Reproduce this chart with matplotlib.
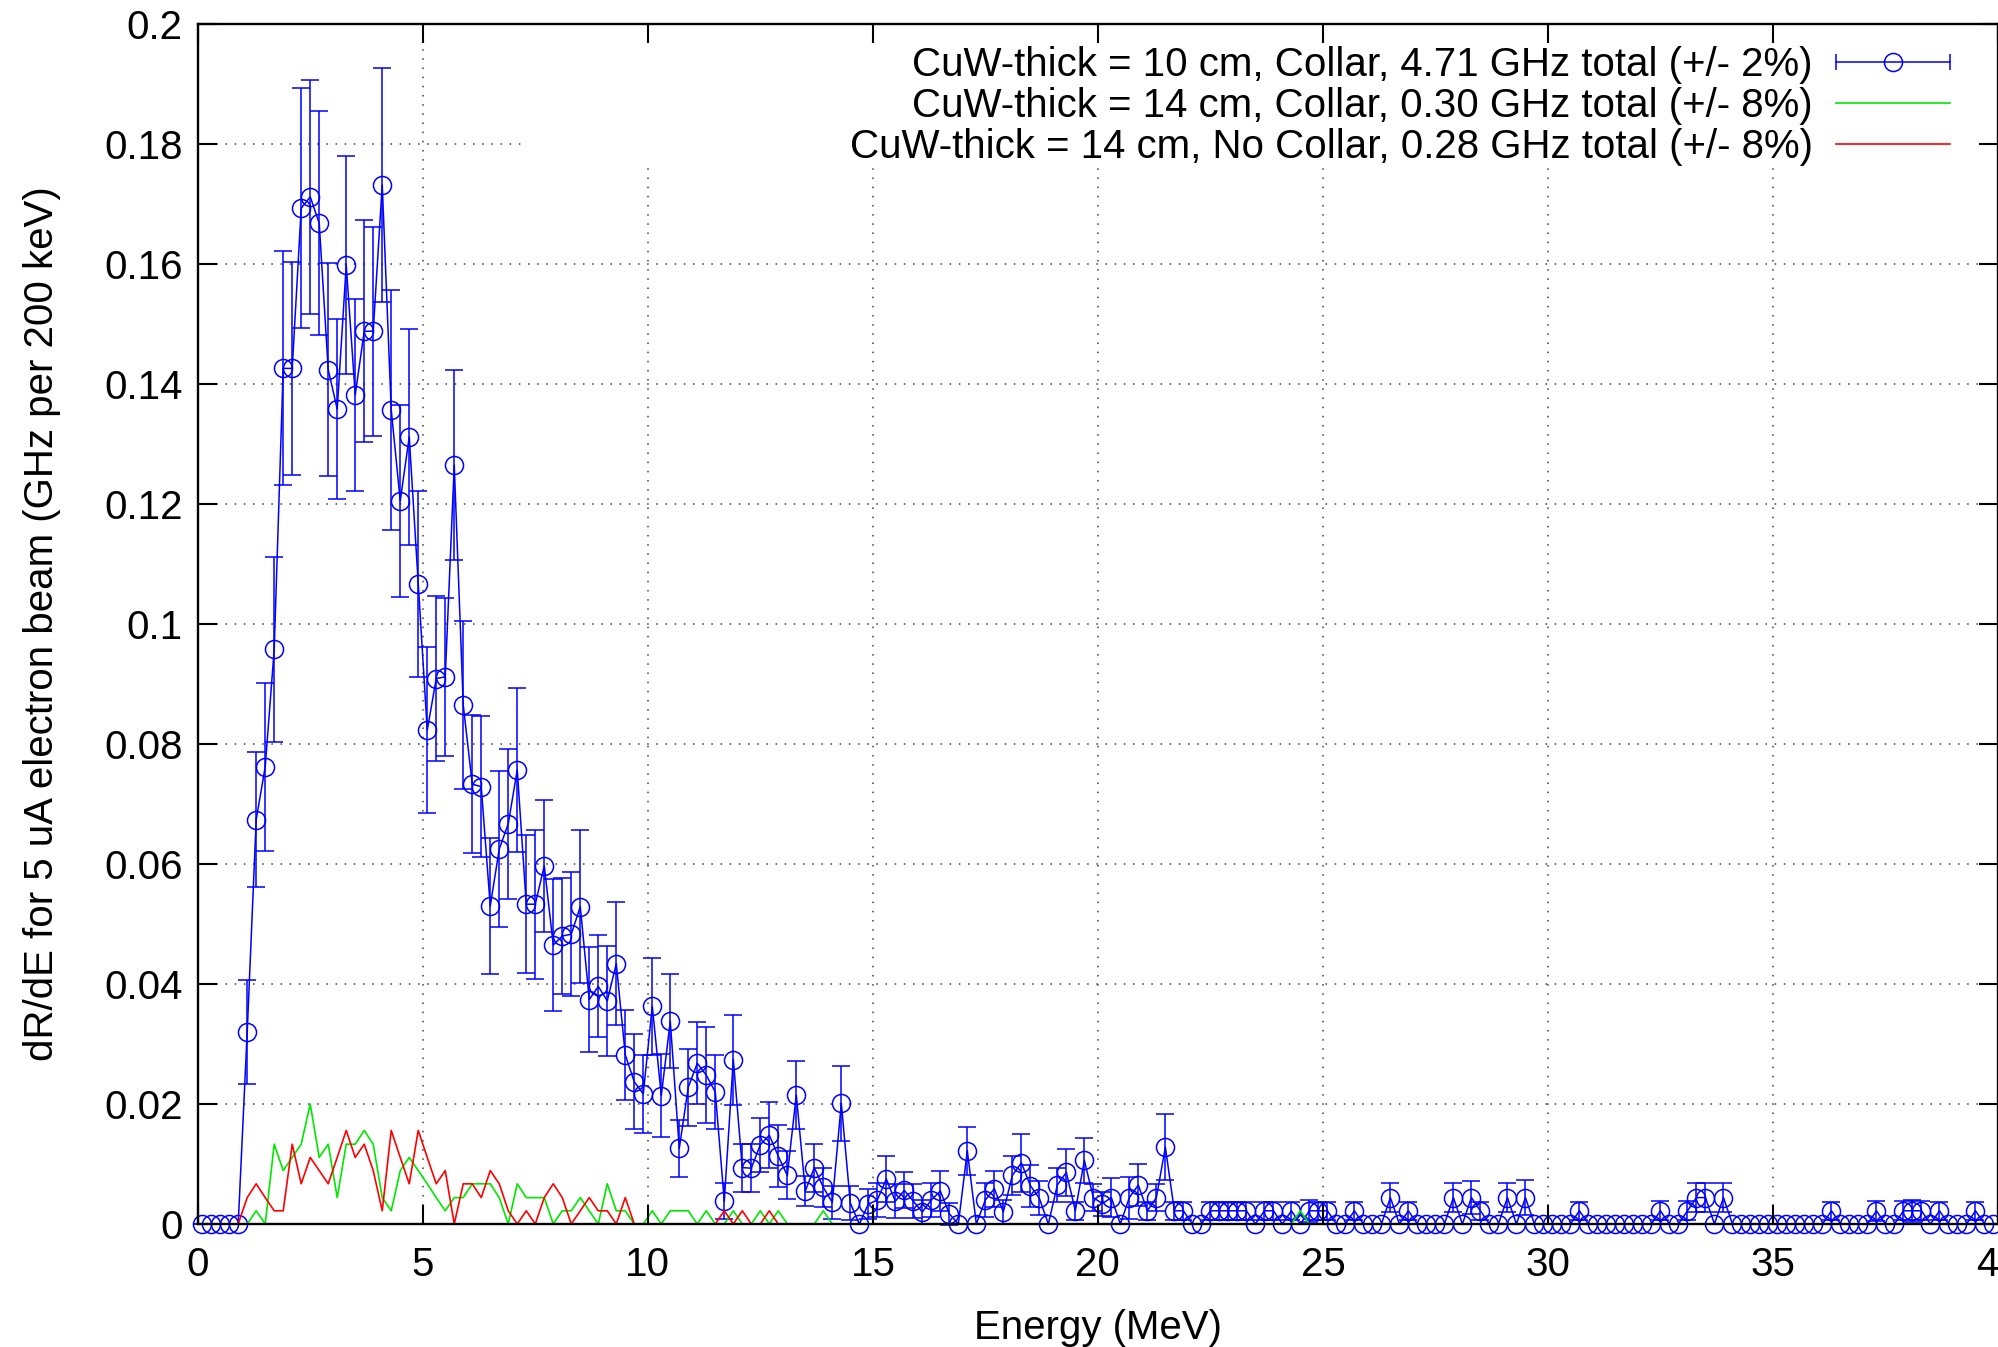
import numpy as np
import matplotlib
matplotlib.use('Agg')
import matplotlib.pyplot as plt
from matplotlib.lines import Line2D
from matplotlib.patches import Rectangle
from matplotlib.legend_handler import HandlerLine2D

plt.rcParams['font.family'] = ['Liberation Sans', 'DejaVu Sans']

# ---------------- data ----------------
bin_width = 0.2
energy = np.round(np.arange(0.1, 40.0, bin_width), 1)   # bin centres (MeV)

cuw10_collar = [
    0, 0, 0, 0, 0, 0.0320, 0.0674, 0.0762, 0.0958, 0.1426,
    0.1426, 0.1693, 0.1712, 0.1668, 0.1424, 0.1358, 0.1598, 0.1382, 0.1488, 0.1488,
    0.1732, 0.1357, 0.1205, 0.1312, 0.1066, 0.0823, 0.0909, 0.0912, 0.1265, 0.0865,
    0.0733, 0.0729, 0.0530, 0.0625, 0.0667, 0.0757, 0.0533, 0.0533, 0.0597, 0.0465,
    0.0480, 0.0483, 0.0529, 0.0374, 0.0396, 0.0372, 0.0434, 0.0282, 0.0237, 0.0217,
    0.0363, 0.0214, 0.0338, 0.0126, 0.0228, 0.0268, 0.0248, 0.0220, 0.0038, 0.0274,
    0.0094, 0.0093, 0.0132, 0.0148, 0.0113, 0.0081, 0.0215, 0.0055, 0.0094, 0.0061,
    0.0036, 0.0201, 0.0035, 0.0, 0.0033, 0.0040, 0.0075, 0.0038, 0.0056, 0.0038,
    0.0020, 0.0040, 0.0055, 0.0017, 0.0, 0.0122, 0.0, 0.0040, 0.0059, 0.0020,
    0.0081, 0.0102, 0.0064, 0.0043, 0.0, 0.0065, 0.0086, 0.0022, 0.0106, 0.0044,
    0.0034, 0.0044, 0.0, 0.0044, 0.0065, 0.0022, 0.0044, 0.0128, 0.0022, 0.0022,
    0, 0, 0.0022, 0.0022, 0.0022, 0.0022, 0.0022, 0, 0.0022, 0.0022,
    0, 0.0022, 0, 0.0022, 0.0022, 0.0022, 0, 0, 0.0022, 0,
    0, 0, 0.0044, 0, 0.0022, 0, 0, 0, 0, 0.0044,
    0, 0.0044, 0.0022, 0, 0, 0.0044, 0, 0.0044, 0, 0,
    0, 0, 0, 0.0022, 0, 0, 0, 0, 0, 0,
    0, 0, 0.0022, 0, 0, 0.0022, 0.0044, 0.0044, 0, 0.0044,
    0, 0, 0, 0, 0, 0, 0, 0, 0, 0,
    0, 0.0022, 0, 0, 0, 0, 0.0022, 0, 0, 0.0022,
    0.0022, 0.0022, 0, 0.0022, 0, 0, 0, 0.0022, 0, 0,
]

cuw10_collar_err = [
    0, 0, 0, 0, 0, 0.0086, 0.0113, 0.0140, 0.0154, 0.0195,
    0.0177, 0.0200, 0.0195, 0.0187, 0.0177, 0.0150, 0.0182, 0.0160, 0.0185, 0.0174,
    0.0195, 0.0200, 0.0160, 0.0180, 0.0155, 0.0138, 0.0137, 0.0132, 0.0158, 0.0140,
    0.0115, 0.0117, 0.0113, 0.0130, 0.0125, 0.0137, 0.0115, 0.0124, 0.0110, 0.0110,
    0.0096, 0.0103, 0.0128, 0.0087, 0.0085, 0.0092, 0.0103, 0.0075, 0.0079, 0.0065,
    0.0081, 0.0069, 0.0078, 0.0047, 0.0064, 0.0068, 0.0080, 0.0062, 0.0030, 0.0075,
    0.0040, 0.0040, 0.0045, 0.0055, 0.0052, 0.0040, 0.0056, 0.0025, 0.0040, 0.0033,
    0.0028, 0.0063, 0.0028, 0, 0.0025, 0.0028, 0.0038, 0.0028, 0.0030, 0.0028,
    0.0020, 0.0028, 0.0033, 0.0018, 0, 0.0040, 0, 0.0028, 0.0030, 0.0020,
    0.0033, 0.0048, 0.0035, 0.0028, 0, 0.0028, 0.0039, 0.0015, 0.0038, 0.0022,
    0.0020, 0.0033, 0, 0.0035, 0.0035, 0.0015, 0.0023, 0.0055, 0.0015, 0.0015,
    0, 0, 0.0015, 0.0015, 0.0015, 0.0015, 0.0015, 0, 0.0015, 0.0015,
    0, 0.0015, 0, 0.0018, 0.0015, 0.0015, 0, 0, 0.0015, 0,
    0, 0, 0.0024, 0, 0.0015, 0, 0, 0, 0, 0.0024,
    0, 0.0027, 0.0015, 0, 0, 0.0024, 0, 0.0029, 0, 0,
    0, 0, 0, 0.0015, 0, 0, 0, 0, 0, 0,
    0, 0, 0.0016, 0, 0, 0.0016, 0.0024, 0.0024, 0, 0.0024,
    0, 0, 0, 0, 0, 0, 0, 0, 0, 0,
    0, 0.0015, 0, 0, 0, 0, 0.0017, 0, 0, 0.0016,
    0.0018, 0.0016, 0, 0.0015, 0, 0, 0, 0.0015, 0, 0,
]

cuw14_collar = [
    0, 0, 0, 0, 0, 0, 0.0022, 0, 0.0133, 0.0089,
    0.0111, 0.0133, 0.0200, 0.0111, 0.0133, 0.0044, 0.0133, 0.0133, 0.0156, 0.0133,
    0.0044, 0.0022, 0.0089, 0.0111, 0.0089, 0.0067, 0.0044, 0.0022, 0.0044, 0.0044,
    0.0067, 0.0067, 0.0067, 0.0044, 0, 0.0067, 0.0044, 0.0044, 0.0044, 0,
    0.0022, 0.0022, 0.0044, 0.0022, 0, 0.0067, 0.0022, 0.0022, 0, 0,
    0.0022, 0, 0.0022, 0.0022, 0.0022, 0, 0.0022, 0, 0, 0.0022,
    0, 0, 0.0022, 0, 0.0022, 0, 0, 0, 0, 0.0022,
    0, 0, 0, 0, 0, 0, 0, 0, 0, 0,
    0, 0, 0, 0, 0, 0, 0, 0, 0, 0,
    0, 0, 0, 0, 0, 0, 0, 0, 0, 0,
    0, 0, 0, 0, 0, 0, 0, 0, 0, 0,
    0, 0, 0, 0, 0, 0, 0, 0, 0, 0,
    0, 0, 0.0022, 0, 0, 0, 0, 0, 0, 0,
    0, 0, 0, 0, 0, 0, 0, 0, 0, 0,
    0, 0, 0, 0, 0, 0, 0, 0, 0, 0,
    0, 0, 0, 0, 0, 0, 0, 0, 0, 0,
    0, 0, 0, 0, 0, 0, 0, 0, 0, 0,
    0, 0, 0, 0, 0, 0, 0, 0, 0, 0,
    0, 0, 0, 0, 0, 0, 0, 0, 0, 0,
    0, 0, 0, 0, 0, 0, 0, 0, 0, 0,
]

cuw14_nocollar = [
    0, 0, 0, 0, 0, 0.0044, 0.0067, 0.0044, 0.0022, 0.0022,
    0.0133, 0.0067, 0.0111, 0.0089, 0.0067, 0.0111, 0.0156, 0.0111, 0.0133, 0.0089,
    0.0022, 0.0156, 0.0111, 0.0067, 0.0156, 0.0111, 0.0067, 0.0089, 0, 0.0067,
    0.0067, 0.0044, 0.0089, 0.0067, 0.0022, 0, 0.0022, 0, 0.0044, 0.0067,
    0.0044, 0, 0.0022, 0.0044, 0.0022, 0.0022, 0, 0.0044, 0, 0,
    0, 0, 0, 0, 0, 0, 0, 0, 0.0022, 0,
    0.0022, 0, 0, 0.0022, 0, 0, 0, 0, 0, 0,
    0, 0, 0, 0, 0, 0, 0, 0, 0, 0,
    0, 0, 0, 0, 0, 0, 0, 0, 0, 0,
    0, 0, 0, 0, 0, 0, 0, 0, 0, 0,
    0, 0, 0, 0, 0, 0, 0, 0, 0, 0,
    0, 0, 0, 0, 0, 0, 0, 0, 0, 0,
    0, 0, 0, 0, 0, 0, 0, 0, 0, 0,
    0, 0, 0, 0, 0, 0, 0, 0, 0, 0,
    0, 0, 0, 0, 0, 0, 0, 0, 0, 0,
    0, 0, 0, 0, 0, 0, 0, 0, 0, 0,
    0, 0, 0, 0, 0, 0, 0, 0, 0, 0,
    0, 0, 0, 0, 0, 0, 0, 0, 0, 0,
    0, 0, 0, 0, 0, 0, 0, 0, 0, 0,
    0, 0, 0, 0, 0, 0, 0, 0, 0, 0,
]

series_labels = [
    'CuW-thick = 10 cm, Collar, 4.71 GHz total (+/- 2%)',
    'CuW-thick = 14 cm, Collar, 0.30 GHz total (+/- 8%)',
    'CuW-thick = 14 cm, No Collar, 0.28 GHz total (+/- 8%)',
]
x_ticks = [0, 5, 10, 15, 20, 25, 30, 35, 40]
x_tick_labels = ['0', '5', '10', '15', '20', '25', '30', '35', '40']
y_ticks = [0, 0.02, 0.04, 0.06, 0.08, 0.1, 0.12, 0.14, 0.16, 0.18, 0.2]
y_tick_labels = ['0', '0.02', '0.04', '0.06', '0.08', '0.1', '0.12', '0.14', '0.16', '0.18', '0.2']
x_label = 'Energy (MeV)'
y_label = 'dR/dE for 5 uA electron beam (GHz per 200 keV)'

# ---------------- style ----------------
BLUE = '#0000ff'
GREEN = '#00e800'
RED = '#ff0000'
FS = 29

fig = plt.figure(figsize=(19.98, 13.47), dpi=100)
rect = [0.09895, 0.09131, 0.90105, 0.89087]
ax = fig.add_axes(rect)
ax.set_xlim(0, 40)
ax.set_ylim(0, 0.2)
ax.set_axisbelow(True)
ax.grid(True, color='#404040', lw=1.1, linestyle=(0, (1, 5)))

# opaque key area (hides grid beneath it)
ax.add_patch(Rectangle((0.1835, 0.88), 0.8165, 0.12, transform=ax.transAxes,
                       facecolor='white', edgecolor='none', zorder=1))

ax.errorbar(energy, cuw10_collar, yerr=cuw10_collar_err, color=BLUE, lw=1.1,
            marker='o', ms=13, mfc='none', mew=1.1, capsize=6.5, capthick=1.1,
            elinewidth=1.1, zorder=2, clip_on=False)
ax.plot(energy, cuw14_collar, color=GREEN, lw=1.2, zorder=3)
ax.plot(energy, cuw14_nocollar, color=RED, lw=1.2, zorder=4)

ax.set_xticks(x_ticks)
ax.set_xticklabels(x_tick_labels)
ax.set_yticks(y_ticks)
ax.set_yticklabels(y_tick_labels)
ax.tick_params(axis='both', direction='in', length=0, labelsize=FS)
ax.tick_params(axis='x', pad=16)
ax.tick_params(axis='y', pad=11)
for s in ax.spines.values():
    s.set_visible(False)
ax.set_xlabel(x_label, fontsize=FS, labelpad=18)
ax.set_ylabel(y_label, fontsize=FS, labelpad=31)

# overlay axes for border and tics drawn above the key
ax2 = fig.add_axes(rect, sharex=ax, sharey=ax, label='overlay')
ax2.patch.set_visible(False)
ax2.tick_params(which='both', direction='in', length=14, width=1.5,
                top=True, right=True, labelbottom=False, labelleft=False)
for s in ax2.spines.values():
    s.set_linewidth(1.7)
    s.set_color('black')

blue_cap = Line2D([], [], color=BLUE, lw=1.1, marker='|', markersize=12, markeredgewidth=1.1)
blue_circ = Line2D([], [], color=BLUE, lw=0, marker='o', markersize=13, mfc='none', markeredgewidth=1.1)
green_h = Line2D([], [], color=GREEN, lw=1.2)
red_h = Line2D([], [], color=RED, lw=1.2)
ax2.legend([(blue_cap, blue_circ), green_h, red_h], series_labels,
           handler_map={blue_cap: HandlerLine2D(numpoints=2, marker_pad=0),
                        blue_circ: HandlerLine2D(numpoints=1)},
           loc='upper right', bbox_to_anchor=(0.9735, 0.982), frameon=False,
           markerfirst=False, handlelength=2.85, handletextpad=0.57,
           labelspacing=0.08, borderpad=0, borderaxespad=0, fontsize=FS)

fig.savefig('out.png', dpi=100)
